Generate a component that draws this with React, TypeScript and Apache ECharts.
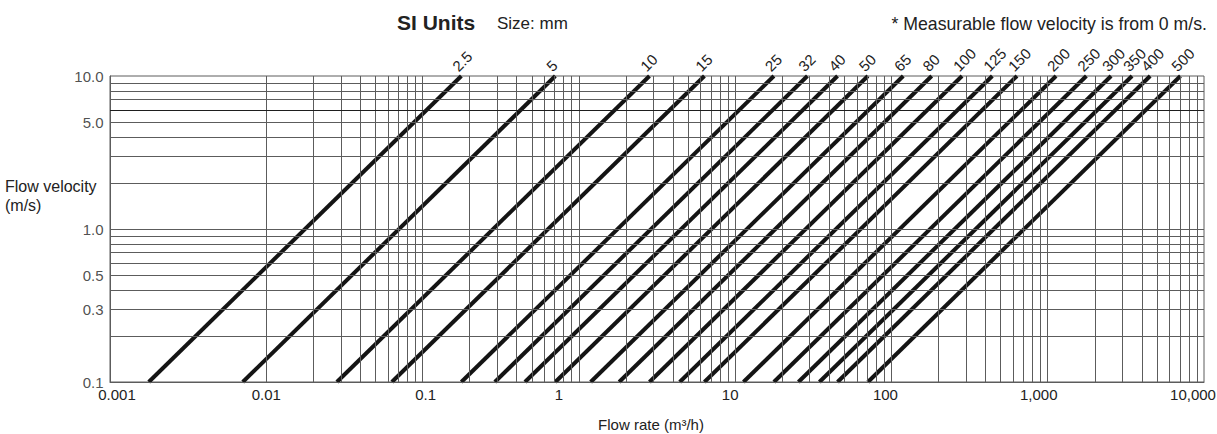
import React, { useEffect, useRef } from "react";
import * as echarts from "echarts";

// Nominal sizes (mm) of the lines
const sizes = ["2.5", "5", "10", "15", "25", "32", "40", "50", "65", "80", "100", "125", "150", "200", "250", "300", "350", "400", "500"];
// Flow rate (m³/h) where each size line meets v = 0.1 m/s (bottom) and v = 10 m/s (top)
const flowAtLowV = [0.00177, 0.00707, 0.0283, 0.0636, 0.177, 0.29, 0.452, 0.707, 1.19, 1.81, 2.83, 4.42, 6.36, 11.3, 17.7, 25.4, 34.6, 45.2, 70.7];
const flowAtHighV = [0.177, 0.707, 2.83, 6.36, 17.7, 29.0, 45.2, 70.7, 119, 181, 283, 442, 636, 1131, 1767, 2545, 3464, 4524, 7069];
const velocityEnds = [0.1, 10];

const xTickLabels = ["0.001", "0.01", "0.1", "1", "10", "100", "1,000", "10,000"];
const yTickValues = [10, 5, 1, 0.5, 0.3, 0.1];
const yTickLabels = ["10.0", "5.0", "1.0", "0.5", "0.3", "0.1"];

const gridDecadesX = [0.001, 0.01, 0.1, 1, 10, 100, 1000];
const gridDecadesY = [0.1, 1];
const gridMantissas = [1, 2, 3, 4, 5, 6, 7, 8, 9];
const darkYGrid = [6];

// label horizontal shifts (px) as in the reference
const xLabelShift = [7, 0, 3, -20, -5, -6, -9, -11];

const FONT = '"Liberation Sans", Arial, Helvetica, sans-serif';
const TEXT = "#222";
const GRID = "#5c5c5c";

export default function App() {
  const ref = useRef<HTMLDivElement>(null);

  useEffect(() => {
    const chart = echarts.init(ref.current!, null, { renderer: "svg" });

    const xGrid = gridDecadesX.flatMap((d) => gridMantissas.map((m) => +(d * m).toPrecision(6)));
    const yGrid = gridDecadesY.flatMap((d) => gridMantissas.map((m) => +(d * m).toPrecision(6)));

    const rich: Record<string, any> = {};
    xLabelShift.forEach((s, i) => {
      rich["s" + i] = {
        fontSize: 15,
        fontFamily: FONT,
        color: TEXT,
        padding: s >= 0 ? [0, 0, 0, 2 * s] : [0, -2 * s, 0, 0],
      };
    });

    const sizeSeries = sizes.map((s, i) => ({
      type: "line",
      name: s,
      z: 3,
      clip: true,
      symbol: "circle",
      symbolSize: 1,
      showSymbol: true,
      itemStyle: { color: "rgba(0,0,0,0)" },
      lineStyle: { color: "#141414", width: 4 },
      emphasis: { disabled: true },
      silent: true,
      label: { show: false },
      data: [
        [flowAtLowV[i], velocityEnds[0]],
        {
          value: [flowAtHighV[i], velocityEnds[1]],
          label: {
            show: true,
            formatter: s,
            rotate: 45,
            position: [-6, -7],
            align: "left",
            verticalAlign: "middle",
            fontSize: 15,
            fontFamily: FONT,
            color: TEXT,
          },
        },
      ],
    }));

    const option: any = {
      animation: false,
      backgroundColor: "#fff",
      textStyle: { fontFamily: FONT },
      grid: {
        left: 110,
        right: 13,
        top: 76,
        bottom: 52,
        show: true,
        borderColor: GRID,
        borderWidth: 1,
        containLabel: false,
        outerBoundsMode: "none",
      },
      xAxis: {
        type: "log",
        logBase: 10,
        min: 0.001,
        max: 10000,
        splitNumber: 7,
        name: "Flow rate (m³/h)",
        nameLocation: "middle",
        nameGap: 35,
        nameTextStyle: { fontSize: 15, color: TEXT, fontFamily: FONT, padding: [0, 12, 0, 0] },
        axisLine: { show: true, lineStyle: { color: GRID, width: 1 } },
        axisTick: { show: false },
        splitLine: { show: false },
        minorSplitLine: { show: false },
        axisLabel: {
          margin: 5,
          fontSize: 15,
          color: TEXT,
          fontFamily: FONT,
          formatter: (v: number) => {
            const i = Math.round(Math.log10(v)) + 3;
            return `{s${i}|${xTickLabels[i]}}`;
          },
          rich,
        },
      },
      yAxis: {
        type: "log",
        logBase: 10,
        min: 0.1,
        max: 10,
        axisLine: { show: true, lineStyle: { color: GRID, width: 1 } },
        axisTick: { show: false },
        splitLine: { show: false },
        axisLabel: { show: false },
      },
      graphic: [
        {
          type: "text",
          left: 397,
          top: 12,
          style: { text: "SI Units", font: `bold 21px ${FONT}`, fill: TEXT },
        },
        {
          type: "text",
          left: 497,
          top: 15,
          style: { text: "Size: mm", font: `17px ${FONT}`, fill: TEXT },
        },
        {
          type: "text",
          right: 10,
          top: 15,
          style: { text: "* Measurable flow velocity is from 0 m/s.", font: `17.7px ${FONT}`, fill: TEXT },
        },
        {
          type: "text",
          left: 5,
          top: 177,
          style: { text: "Flow velocity\n(m/s)", font: `16px ${FONT}`, lineHeight: 19, fill: TEXT },
        },
      ],
      series: [
        {
          type: "line",
          name: "grid",
          z: 1,
          silent: true,
          data: [],
          markLine: {
            silent: true,
            symbol: "none",
            animation: false,
            label: { show: false },
            emphasis: { disabled: true },
            lineStyle: { color: GRID, width: 1, type: "solid" },
            data: [
              ...xGrid.map((v) => ({ xAxis: v })),
              ...yGrid.map((v) =>
                darkYGrid.includes(v)
                  ? { yAxis: v, lineStyle: { color: "#1e1e1e", width: 1, type: "solid" } }
                  : { yAxis: v }
              ),
            ],
          },
        },
        {
          type: "scatter",
          name: "yLabels",
          z: 4,
          silent: true,
          clip: false,
          symbol: "rect",
          symbolSize: 1,
          itemStyle: { color: "rgba(0,0,0,0)" },
          label: {
            show: true,
            position: "left",
            distance: 6,
            fontSize: 15,
            fontFamily: FONT,
            color: TEXT,
          },
          data: yTickValues.map((v, i) => ({
            value: [0.001, v],
            label: { formatter: yTickLabels[i] },
          })),
        },
        ...sizeSeries,
      ],
    };

    chart.setOption(option);
    return () => chart.dispose();
  }, []);

  return (
    <div
      ref={ref}
      style={{ position: "fixed", left: 0, top: 0, width: 1217, height: 434, background: "#fff" }}
    />
  );
}
